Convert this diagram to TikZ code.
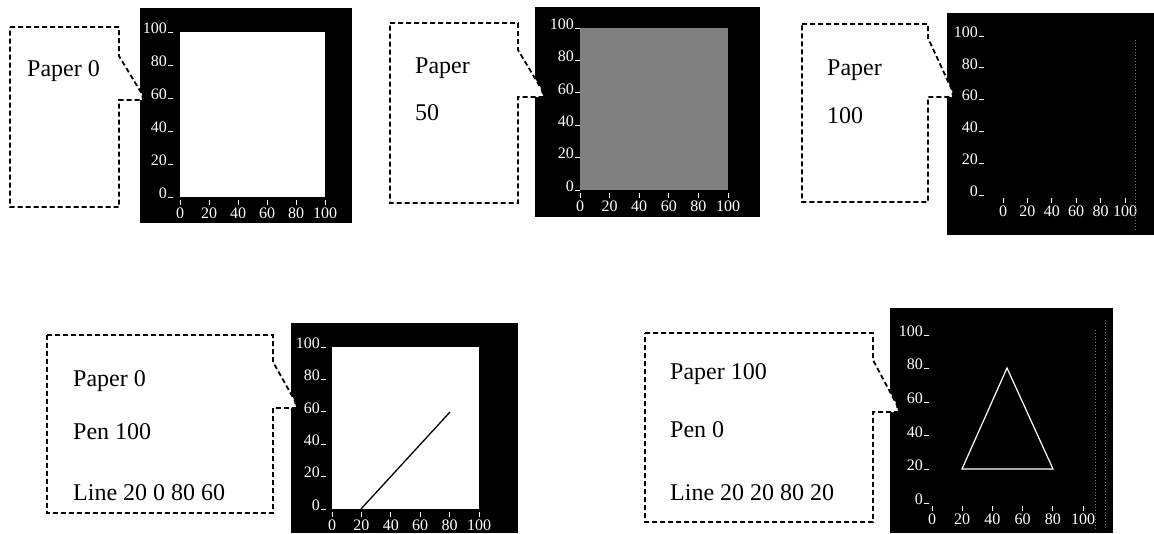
\documentclass[tikz,border=0pt]{standalone}
\usepackage{fontspec}
\setmainfont{Liberation Serif}
\tikzset{
  callout/.style={draw=black, line width=1.8pt, dash pattern=on 5pt off 3pt, fill=white},
  boxtext/.style={anchor=base west, font=\fontsize{24}{28}\selectfont, inner sep=0pt},
  axislabel/.style={text=white, font=\fontsize{16}{18}\selectfont, inner sep=0pt},
  axistick/.style={white, line width=1pt}
}
\begin{document}
\begin{tikzpicture}[x=1pt, y=-1pt]
  \useasboundingbox (0,0) rectangle (1154,533);
  % Schwarze Felder mit Achsen
  \foreach \i/\bx/\by/\ex/\ey/\xa/\xb/\ya/\yb/\lx in {
      1/140/8/352/223/180/325/197/32/167,
      2/535/7/760/217/580/728/190/28/574,
      3/947/13/1154/235/1003/1125/195/36/978,
      4/291/323/518/533/332/479/509/347/320,
      5/890/308/1113/533/932/1083/503/335/923
  } {
    \fill[black] (\bx,\by) rectangle (\ex,\ey);
    \foreach \v in {0,20,...,100} {
      \pgfmathsetmacro\yy{\ya+(\yb-\ya)*(\v/100)}
      \pgfmathsetmacro\xx{\xa+(\xb-\xa)*(\v/100)}
      \node[axislabel, anchor=east] (y\i-\v) at (\lx,\yy-4) {\v};
      \draw[axistick] (\lx+1,\yy) -- (\lx+6,\yy);
      \node[axislabel, anchor=north] (x\i-\v) at (\xx,\ya+11) {\v};
      \draw[axistick] (\xx,\ya+3) -- (\xx,\ya+8);
    }
  }
  % Papierflaechen
  \fill[white] (180,32) rectangle (325,197);
  \fill[black!50] (580,28) rectangle (728,190);
  \fill[white] (332,347) rectangle (479,509);
  % Rauschen am Rand
  \draw[black!55, dotted, line width=1pt] (1135,40) -- (1135,230);
  \draw[black!55, dotted, line width=1pt] (1095,330) -- (1095,530);
  \draw[black!55, dotted, line width=1pt] (1105,320) -- (1105,530);
  % Linien
  \draw[black, line width=1.3pt] (361,509) -- (450,412);
  \draw[white, line width=1.2pt] (962,469) -- (1053,469) -- (1007,368) -- cycle;
  % Sprechblasen
  \draw[callout] (10,27) -- (119,27) -- (119,56) -- (142,94) -- (143,100) -- (119,100) -- (119,207) -- (10,207) -- cycle;
  \draw[callout] (390,23) -- (518,23) -- (518,50) -- (542,90) -- (543,97) -- (518,97) -- (518,203) -- (390,203) -- cycle;
  \draw[callout] (802,24) -- (928,24) -- (928,38) -- (952,90) -- (953,97) -- (928,97) -- (928,202) -- (802,202) -- cycle;
  \draw[callout] (47,335) -- (273,335) -- (273,362) -- (295,401) -- (296,408) -- (273,408) -- (273,513) -- (47,513) -- cycle;
  \draw[callout] (645,333) -- (873,333) -- (873,360) -- (897,405) -- (898,412) -- (873,412) -- (873,522) -- (645,522) -- cycle;
  % Texte
  \node[boxtext] (t1) at (27,76) {Paper 0};
  \node[boxtext] (t2a) at (415,73) {Paper};
  \node[boxtext] (t2b) at (415,120) {50};
  \node[boxtext] (t3a) at (827,75) {Paper};
  \node[boxtext] (t3b) at (827,123) {100};
  \node[boxtext] (t4a) at (73,386) {Paper 0};
  \node[boxtext] (t4b) at (73,439) {Pen 100};
  \node[boxtext] (t4c) at (73,500) {Line 20 0 80 60};
  \node[boxtext] (t5a) at (670,379) {Paper 100};
  \node[boxtext] (t5b) at (670,437) {Pen 0};
  \node[boxtext] (t5c) at (670,500) {Line 20 20 80 20};
\end{tikzpicture}
\end{document}
